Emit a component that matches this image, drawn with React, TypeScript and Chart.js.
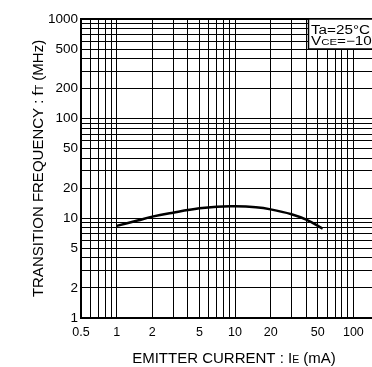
import React, { useEffect, useRef } from "react";
import { Chart, registerables } from "chart.js";

Chart.register(...registerables);

// Curve data: emitter current (mA) vs transition frequency (MHz)
const emitterCurrent = [1, 1.5, 2, 3, 5, 7, 10, 15, 20, 30, 40, 55];
const transitionFreq = [8.4, 9.5, 10.4, 11.4, 12.6, 13.1, 13.2, 12.9, 12.3, 11.0, 9.7, 7.9];

// Grid lines and tick labels
const xGridValues = [0.5, 0.6, 0.7, 0.8, 0.9, 1, 2, 3, 4, 5, 6, 7, 8, 9, 10, 20, 30, 40, 50, 60, 70, 80, 90, 100, 200];
const xTickLabels = [0.5, 1, 2, 5, 10, 20, 50, 100];
const yGridValues = [1, 2, 3, 4, 5, 6, 7, 8, 9, 10, 20, 30, 40, 50, 60, 70, 80, 90, 100, 200, 300, 400, 500, 600, 700, 800, 900, 1000];
const yTickLabels = [1, 2, 5, 10, 20, 50, 100, 200, 500, 1000];

const FONT = "'Liberation Sans', Arial, Helvetica, sans-serif";

type Run = { text: string; size: number };

function runsWidth(ctx: CanvasRenderingContext2D, runs: Run[]) {
  let w = 0;
  for (const r of runs) {
    ctx.font = `${r.size}px ${FONT}`;
    w += ctx.measureText(r.text).width;
  }
  return w;
}

function drawRuns(ctx: CanvasRenderingContext2D, runs: Run[], x: number, y: number, align: "left" | "center") {
  const total = runsWidth(ctx, runs);
  let cx = align === "center" ? x - total / 2 : x;
  ctx.textAlign = "left";
  ctx.textBaseline = "alphabetic";
  for (const r of runs) {
    ctx.font = `${r.size}px ${FONT}`;
    ctx.fillText(r.text, cx, y);
    cx += ctx.measureText(r.text).width;
  }
}

const overlayPlugin = {
  id: "overlay",
  afterDraw(chart: any) {
    const ctx: CanvasRenderingContext2D = chart.ctx;
    const a = chart.chartArea;
    ctx.save();
    // frame
    ctx.strokeStyle = "#000";
    ctx.lineWidth = 2;
    ctx.strokeRect(a.left, a.top, a.right - a.left, a.bottom - a.top);

    // condition box
    const bx = 308.5;
    const by = a.top;
    const bh = 30;
    ctx.fillStyle = "#fff";
    ctx.fillRect(bx, by, 120, bh);
    ctx.lineWidth = 1.5;
    ctx.strokeRect(bx, by, 120, bh);
    ctx.fillStyle = "#000";
    ctx.save();
    ctx.translate(311, 33.5);
    ctx.scale(1.27, 1);
    drawRuns(ctx, [{ text: "Ta=25°C", size: 12 }], 0, 0, "left");
    ctx.restore();
    ctx.save();
    ctx.translate(311, 45);
    ctx.scale(1.27, 1);
    drawRuns(ctx, [
      { text: "V", size: 12 },
      { text: "CE", size: 9 },
      { text: "=\u221210V", size: 12 },
    ], 0, 0, "left");
    ctx.restore();

    // axis titles
    ctx.fillStyle = "#000";
    drawRuns(ctx, [
      { text: "EMITTER CURRENT : I", size: 15 },
      { text: "E", size: 10.5 },
      { text: " (mA)", size: 15 },
    ], 234, 362.5, "center");

    ctx.save();
    ctx.translate(38, (a.top + a.bottom) / 2);
    ctx.rotate(-Math.PI / 2);
    drawRuns(ctx, [
      { text: "TRANSITION FREQUENCY : f", size: 15 },
      { text: "T", size: 10.5 },
      { text: " (MHz)", size: 15 },
    ], 0, 5.4, "center");
    ctx.restore();

    ctx.restore();
  },
};

export default function App() {
  const ref = useRef<HTMLCanvasElement | null>(null);

  useEffect(() => {
    if (!ref.current) return;
    const chart = new Chart(ref.current, {
      type: "line",
      data: {
        datasets: [
          {
            data: emitterCurrent.map((x, i) => ({ x, y: transitionFreq[i] })),
            borderColor: "#000",
            borderWidth: 2.5,
            pointRadius: 0,
            tension: 0.4,
            fill: false,
          },
        ],
      },
      options: {
        animation: false,
        responsive: false,
        maintainAspectRatio: false,
        devicePixelRatio: 1,
        layout: { padding: { left: 0, top: 19, right: 11, bottom: 29 } },
        plugins: { legend: { display: false }, tooltip: { enabled: false } },
        scales: {
          x: {
            type: "logarithmic",
            min: 0.5,
            max: 200,
            afterFit: (s: any) => {
              s.height = 20;
            },
            afterBuildTicks: (s: any) => {
              s.ticks = xGridValues.map((v) => ({ value: v }));
            },
            ticks: {
              autoSkip: false,
              maxRotation: 0,
              minRotation: 0,
              padding: 7,
              color: "#000",
              font: { family: FONT, size: 12.5 },
              callback: (v: any) => (xTickLabels.includes(Number(v)) ? String(v) : ""),
            },
            grid: { color: "#000", lineWidth: 1, drawTicks: false },
            border: { color: "#000", width: 2 },
          },
          y: {
            type: "logarithmic",
            min: 1,
            max: 1000,
            afterFit: (s: any) => {
              s.width = 81;
            },
            afterBuildTicks: (s: any) => {
              s.ticks = yGridValues.map((v) => ({ value: v }));
            },
            ticks: {
              autoSkip: false,
              padding: 3,
              color: "#000",
              font: { family: FONT, size: 13.5 },
              callback: (v: any) => (yTickLabels.includes(Number(v)) ? String(v) : ""),
            },
            grid: { color: "#000", lineWidth: 1, drawTicks: false },
            border: { color: "#000", width: 2 },
          },
        },
      },
      plugins: [overlayPlugin],
    });
    return () => chart.destroy();
  }, []);

  return (
    <div style={{ position: "fixed", left: 0, top: 0, width: 372, height: 367, overflow: "hidden", background: "#fff" }}>
      <canvas ref={ref} width={400} height={367} style={{ display: "block" }} />
    </div>
  );
}
